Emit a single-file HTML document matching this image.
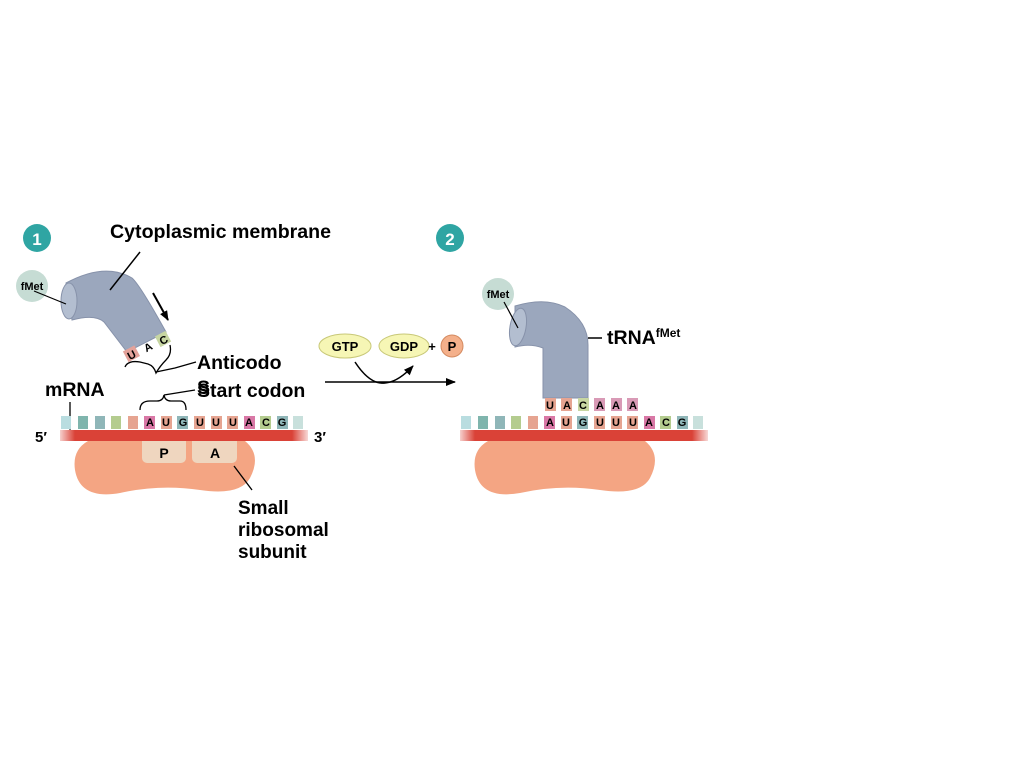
<!DOCTYPE html>
<html><head><meta charset="utf-8"><style>
html,body{margin:0;padding:0;background:#fff;}
svg{display:block;font-family:"Liberation Sans",Arial,sans-serif;}
.b{font-weight:bold;}
</style></head><body>
<svg width="1024" height="768" viewBox="0 0 1024 768">
<defs>
<marker id="ah" markerWidth="10" markerHeight="8" refX="9" refY="4" orient="auto" markerUnits="userSpaceOnUse"><path d="M0,0 L10,4 L0,8 Z" fill="#000"/></marker>
<linearGradient id="fadeL" x1="0" x2="1"><stop offset="0" stop-color="#fff"/><stop offset="1" stop-color="#fff" stop-opacity="0"/></linearGradient>
<linearGradient id="fadeR" x1="0" x2="1"><stop offset="0" stop-color="#fff" stop-opacity="0"/><stop offset="1" stop-color="#fff"/></linearGradient>
</defs>

<!-- Panel 1 -->
<circle cx="37" cy="238" r="14" fill="#2fa5a3"/>
<text x="37" y="245" text-anchor="middle" class="b" font-size="17" fill="#fff">1</text>
<text x="110" y="238" class="b" font-size="19.6">Cytoplasmic membrane</text>
<circle cx="32" cy="286" r="16" fill="#c6dcd4"/>
<text x="32" y="290" text-anchor="middle" class="b" font-size="11">fMet</text>
<path d="M66,283 Q105,262 132,278 Q140,285 166,332 L127,352 L104,322 Q95,314 72,320 Z" fill="#9ba7bd" stroke="#8792aa" stroke-width="1"/>
<ellipse cx="69" cy="301" rx="8" ry="18" fill="#b3bed0" stroke="#8792aa"/>
<line x1="140" y1="252" x2="110" y2="290" stroke="#000" stroke-width="1.5"/>
<line x1="34" y1="291" x2="66" y2="304" stroke="#000" stroke-width="1.2"/>
<line x1="153" y1="293" x2="168" y2="320" stroke="#000" stroke-width="2" marker-end="url(#ah)"/>
<g class="b" font-size="11">
<rect x="125" y="348" width="13" height="12" fill="#e4a29a" transform="rotate(-28 131 354)"/>
<text x="131" y="359" text-anchor="middle" transform="rotate(-28 131 354)">U</text>
<text x="148" y="351" text-anchor="middle" transform="rotate(-28 148 347)">A</text>
<rect x="157" y="333" width="12" height="12" fill="#c7d6a2" transform="rotate(-28 163 339)"/>
<text x="163" y="344" text-anchor="middle" transform="rotate(-28 163 339)">C</text>
</g>
<path d="M125,367 Q128,360 140,362 L148,364 Q154,366 156,373 Q160,366 166,360 Q172,354 170,345" fill="none" stroke="#000" stroke-width="1.3"/>
<path d="M156,372 L175,368 L196,362" fill="none" stroke="#000" stroke-width="1.3"/>
<text x="197" y="369" class="b" font-size="19.5">Anticodo</text>
<text x="197" y="397" class="b" font-size="19.5">Start codon</text>
<text x="197" y="394" class="b" font-size="19.5">S</text>
<path d="M140,410 Q140,401 150,401 L157,401 Q163,401 164,395 Q165,401 171,401 L180,401 Q186,401 186,410" fill="none" stroke="#000" stroke-width="1.3"/>
<line x1="164" y1="395" x2="195" y2="390" stroke="#000" stroke-width="1.3"/>
<text x="45" y="396" class="b" font-size="19.5">mRNA</text>
<line x1="70" y1="402" x2="70" y2="434" stroke="#000" stroke-width="1.3"/>

<!-- ribosome 1 -->
<path d="M88,441 L245,441 Q262,455 250,478 Q240,496 200,490 Q160,484 120,493 Q80,500 75,470 Q72,450 88,441 Z" fill="#f4a583"/>
<rect x="142" y="436" width="44" height="27" rx="5" fill="#efd6bf"/>
<rect x="192" y="436" width="45" height="27" rx="5" fill="#efd6bf"/>
<text x="164" y="458" text-anchor="middle" class="b" font-size="14">P</text>
<text x="215" y="458" text-anchor="middle" class="b" font-size="14">A</text>
<rect x="60" y="430" width="248" height="11" fill="#da4237"/>
<rect x="55" y="428" width="20" height="15" fill="url(#fadeL)"/>
<rect x="292" y="428" width="20" height="15" fill="url(#fadeR)"/>
<text x="35" y="442" class="b" font-size="15">5′</text>
<text x="314" y="442" class="b" font-size="15">3′</text>
<g>
<rect x="61" y="416" width="10" height="13" fill="#b9dde0"/>
<rect x="78" y="416" width="10" height="13" fill="#7fb5ad"/>
<rect x="95" y="416" width="10" height="13" fill="#8fb6b8"/>
<rect x="111" y="416" width="10" height="13" fill="#b4cc8f"/>
<rect x="128" y="416" width="10" height="13" fill="#e6a491"/>
<rect x="144" y="416" width="11" height="13" fill="#d978a6"/>
<rect x="161" y="416" width="11" height="13" fill="#e6a491"/>
<rect x="177" y="416" width="11" height="13" fill="#8fb6b8"/>
<rect x="194" y="416" width="11" height="13" fill="#e6a491"/>
<rect x="211" y="416" width="11" height="13" fill="#e6a491"/>
<rect x="227" y="416" width="11" height="13" fill="#e6a491"/>
<rect x="244" y="416" width="11" height="13" fill="#d978a6"/>
<rect x="260" y="416" width="11" height="13" fill="#b4cc8f"/>
<rect x="277" y="416" width="11" height="13" fill="#8fb6b8"/>
<rect x="293" y="416" width="10" height="13" fill="#c8e0dc"/>
</g>
<g class="b" font-size="11" text-anchor="middle">
<text x="150" y="426">A</text><text x="166" y="426">U</text><text x="183" y="426">G</text>
<text x="200" y="426">U</text><text x="216" y="426">U</text><text x="233" y="426">U</text>
<text x="249" y="426">A</text><text x="266" y="426">C</text><text x="282" y="426">G</text>
</g>
<line x1="234" y1="466" x2="252" y2="490" stroke="#000" stroke-width="1.3"/>
<g class="b" font-size="19">
<text x="238" y="514">Small</text>
<text x="238" y="536">ribosomal</text>
<text x="238" y="558">subunit</text>
</g>

<!-- Middle -->
<ellipse cx="345" cy="346" rx="26" ry="12" fill="#f6f6b5" stroke="#c8c878"/>
<text x="345" y="351" text-anchor="middle" class="b" font-size="13">GTP</text>
<ellipse cx="404" cy="346" rx="25" ry="12" fill="#f6f6b5" stroke="#c8c878"/>
<text x="404" y="351" text-anchor="middle" class="b" font-size="13">GDP</text>
<text x="432" y="351" text-anchor="middle" class="b" font-size="13">+</text>
<circle cx="452" cy="346" r="11" fill="#f4b08b" stroke="#d48a60"/>
<text x="452" y="351" text-anchor="middle" class="b" font-size="13">P</text>
<path d="M355,362 Q370,385 385,383 Q398,382 413,366" fill="none" stroke="#000" stroke-width="1.5" marker-end="url(#ah)"/>
<line x1="325" y1="382" x2="455" y2="382" stroke="#000" stroke-width="1.5" marker-end="url(#ah)"/>

<!-- Panel 2 -->
<circle cx="450" cy="238" r="14" fill="#2fa5a3"/>
<text x="450" y="245" text-anchor="middle" class="b" font-size="17" fill="#fff">2</text>
<circle cx="498" cy="294" r="16" fill="#c6dcd4"/>
<text x="498" y="298" text-anchor="middle" class="b" font-size="11">fMet</text>
<path d="M515,306 Q545,297 565,307 Q588,322 588,345 L588,398 L543,398 L543,348 Q530,343 515,347 Z" fill="#9ba7bd" stroke="#8792aa"/>
<ellipse cx="518" cy="327" rx="8" ry="19" fill="#b3bed0" stroke="#8792aa" transform="rotate(10 518 327)"/>
<line x1="504" y1="302" x2="518" y2="328" stroke="#000" stroke-width="1.2"/>
<line x1="588" y1="338" x2="602" y2="338" stroke="#000" stroke-width="1.5"/>
<text x="607" y="344" class="b" font-size="19.5">tRNA<tspan font-size="12" dy="-7">fMet</tspan></text>
<g>
<rect x="545" y="398" width="11" height="13" fill="#e6a491"/>
<rect x="561" y="398" width="11" height="13" fill="#e6a491"/>
<rect x="578" y="398" width="11" height="13" fill="#c7d6a2"/>
<rect x="594" y="398" width="11" height="13" fill="#d99ab6"/>
<rect x="611" y="398" width="11" height="13" fill="#d99ab6"/>
<rect x="627" y="398" width="11" height="13" fill="#d99ab6"/>
</g>
<g class="b" font-size="11" text-anchor="middle">
<text x="550" y="409">U</text><text x="567" y="409">A</text><text x="583" y="409">C</text>
<text x="600" y="409">A</text><text x="616" y="409">A</text><text x="633" y="409">A</text>
</g>
<path d="M488,441 L645,441 Q662,455 650,478 Q640,496 600,490 Q560,484 520,493 Q480,500 475,470 Q472,450 488,441 Z" fill="#f4a583"/>
<rect x="460" y="430" width="248" height="11" fill="#da4237"/>
<rect x="455" y="428" width="20" height="15" fill="url(#fadeL)"/>
<rect x="692" y="428" width="20" height="15" fill="url(#fadeR)"/>
<g>
<rect x="461" y="416" width="10" height="13" fill="#b9dde0"/>
<rect x="478" y="416" width="10" height="13" fill="#7fb5ad"/>
<rect x="495" y="416" width="10" height="13" fill="#8fb6b8"/>
<rect x="511" y="416" width="10" height="13" fill="#b4cc8f"/>
<rect x="528" y="416" width="10" height="13" fill="#e6a491"/>
<rect x="544" y="416" width="11" height="13" fill="#d978a6"/>
<rect x="561" y="416" width="11" height="13" fill="#e6a491"/>
<rect x="577" y="416" width="11" height="13" fill="#8fb6b8"/>
<rect x="594" y="416" width="11" height="13" fill="#e6a491"/>
<rect x="611" y="416" width="11" height="13" fill="#e6a491"/>
<rect x="627" y="416" width="11" height="13" fill="#e6a491"/>
<rect x="644" y="416" width="11" height="13" fill="#d978a6"/>
<rect x="660" y="416" width="11" height="13" fill="#b4cc8f"/>
<rect x="677" y="416" width="11" height="13" fill="#8fb6b8"/>
<rect x="693" y="416" width="10" height="13" fill="#c8e0dc"/>
</g>
<g class="b" font-size="11" text-anchor="middle">
<text x="550" y="426">A</text><text x="566" y="426">U</text><text x="583" y="426">G</text>
<text x="600" y="426">U</text><text x="616" y="426">U</text><text x="633" y="426">U</text>
<text x="649" y="426">A</text><text x="666" y="426">C</text><text x="682" y="426">G</text>
</g>
</svg>
</body></html>
